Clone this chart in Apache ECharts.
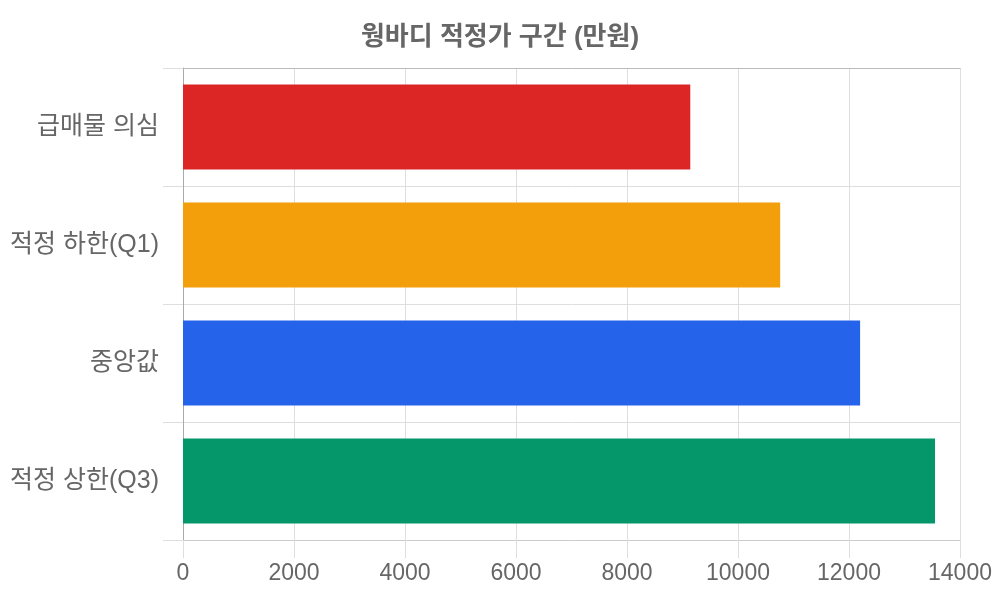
<!DOCTYPE html>
<html>
<head>
<meta charset="utf-8">
<script src="https://cdn.jsdelivr.net/npm/echarts@6/dist/echarts.min.js"></script>
<style>
  html, body { margin: 0; padding: 0; background: #fff; }
  #chart { width: 1000px; height: 600px; }
</style>
</head>
<body>
<div id="chart"></div>
<script>
// 구간 이름 (위에서 아래 순서)
const categories = ['급매물 의심', '적정 하한(Q1)', '중앙값', '적정 상한(Q3)']
// 가격 (만원)
const prices = [9140, 10760, 12200, 13550]
const barColors = ['#dc2626', '#f39f0b', '#2563eb', '#059669']
const xTicks = { min: 0, max: 14000, interval: 2000 }

const font = '"Liberation Sans", "Noto Sans CJK KR", sans-serif'
const gridLine = '#dedede'

const myChart = echarts.init(document.getElementById('chart'))

myChart.setOption({
    animation: false,
    title: {
        text: '웡바디 적정가 구간 (만원)',
        left: 'center',
        top: 20,
        textStyle: { color: '#666', fontSize: 26, fontWeight: 'bold', fontFamily: font }
    },
    grid: { left: 183, right: 40, top: 68, bottom: 60 },
    xAxis: [
        {
            type: 'value',
            min: xTicks.min,
            max: xTicks.max,
            interval: xTicks.interval,
            axisLine: { show: true, lineStyle: { color: '#cccccc' } },
            axisTick: { show: true, length: 18, lineStyle: { color: gridLine } },
            axisLabel: {
                color: '#666', fontSize: 23, margin: 22, fontFamily: font,
                formatter: v => String(v)
            },
            splitLine: { show: true, lineStyle: { color: gridLine } }
        },
        {
            // 위쪽 테두리
            type: 'value',
            position: 'top',
            min: xTicks.min,
            max: xTicks.max,
            interval: xTicks.interval,
            axisLine: { show: true, lineStyle: { color: '#bbbbbb' } },
            axisTick: { show: false },
            axisLabel: { show: false },
            splitLine: { show: false }
        }
    ],
    yAxis: {
        type: 'category',
        inverse: true,
        data: categories,
        axisLine: { show: true, lineStyle: { color: '#aaaaaa' } },
        axisTick: { show: true, length: 20, lineStyle: { color: gridLine } },
        axisLabel: { color: '#666', fontSize: 25, margin: 24, fontFamily: font },
        splitLine: { show: true, lineStyle: { color: gridLine } }
    },
    series: [{
        type: 'bar',
        xAxisIndex: 0,
        barCategoryGap: '28%',
        data: prices.map((v, i) => ({ value: v, itemStyle: { color: barColors[i] } }))
    }]
})
</script>
</body>
</html>
